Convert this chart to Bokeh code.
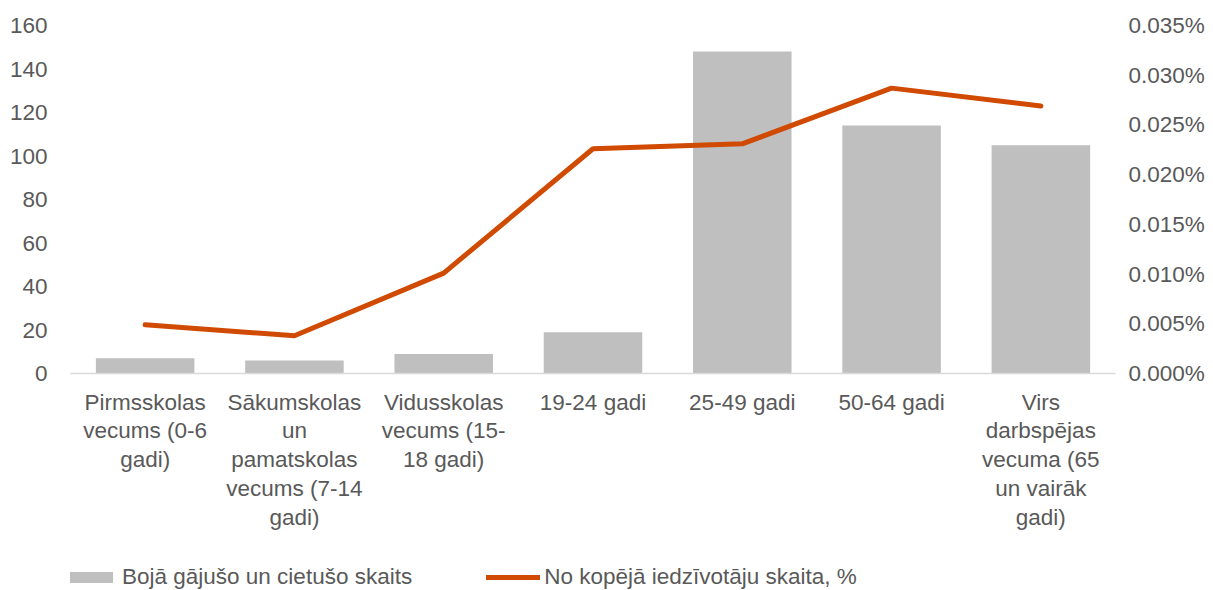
from bokeh.plotting import figure
from bokeh.layouts import column
from bokeh.models import (FactorRange, Range1d, LinearAxis, FixedTicker,
                          PrintfTickFormatter, Legend, LegendItem, ColumnDataSource)
from bokeh.embed import file_html
from bokeh.resources import INLINE

categories = [
    "Pirmsskolas\nvecums (0-6\ngadi)",
    "Sākumskolas\nun\npamatskolas\nvecums (7-14\ngadi)",
    "Vidusskolas\nvecums (15-\n18 gadi)",
    "19-24 gadi",
    "25-49 gadi",
    "50-64 gadi",
    "Virs\ndarbspējas\nvecuma (65\nun vairāk\ngadi)",
]
counts = [7, 6, 9, 19, 148, 114, 105]
share_pct = [0.0049, 0.0038, 0.0101, 0.0226, 0.0231, 0.0287, 0.0269]
left_ticks = [0, 20, 40, 60, 80, 100, 120, 140, 160]
right_ticks = [0.0, 0.005, 0.010, 0.015, 0.020, 0.025, 0.030, 0.035]

bar_label = "Bojā gājušo un cietušo skaits"
line_label = "No kopējā iedzīvotāju skaita, %"

FONT = "Liberation Sans"
TXT = "#595959"
FS = "22.5px"
BAR_COLOR = "#BFBFBF"
LINE_COLOR = "#D04A02"

src = ColumnDataSource(dict(cat=categories, count=counts, share=share_pct))

p = figure(x_range=FactorRange(*categories), y_range=Range1d(0, 160),
           width=1213, height=550, output_backend="svg", toolbar_location=None,
           min_border_left=70, min_border_right=98, min_border_top=25,
           min_border_bottom=177)
p.extra_y_ranges = {"pct": Range1d(0, 0.035)}

bars = p.vbar(x="cat", top="count", width=0.66, source=src,
              fill_color=BAR_COLOR, line_color=None)
ln = p.line(x="cat", y="share", source=src, y_range_name="pct",
            line_color=LINE_COLOR, line_width=5, line_cap="round", line_join="round")

p.outline_line_color = None
p.grid.grid_line_color = None
p.x_range.range_padding = 0.0

# x axis
xa = p.xaxis[0]
xa.axis_line_color = "#D9D9D9"
xa.axis_line_width = 1.5
xa.major_tick_line_color = None
xa.minor_tick_line_color = None
xa.major_label_text_font = FONT
xa.major_label_text_font_size = FS
xa.major_label_text_color = TXT
xa.major_label_standoff = 10
xa.major_label_text_line_height = 1.15
xa.major_label_orientation = "horizontal"

# left axis
ya = p.yaxis[0]
ya.ticker = FixedTicker(ticks=left_ticks)
ya.axis_line_color = None
ya.major_tick_line_color = None
ya.minor_tick_line_color = None
ya.major_label_text_font = FONT
ya.major_label_text_font_size = FS
ya.major_label_text_color = TXT
ya.major_label_standoff = 17

# right axis
ra = LinearAxis(y_range_name="pct", ticker=FixedTicker(ticks=right_ticks),
                formatter=PrintfTickFormatter(format="%.3f%%"))
ra.axis_line_color = None
ra.major_tick_line_color = None
ra.minor_tick_line_color = None
ra.major_label_text_font = FONT
ra.major_label_text_font_size = FS
ra.major_label_text_color = TXT
ra.major_label_standoff = 7
p.add_layout(ra, "right")

# legend strip below the chart (its renderers use the same data, kept out of view)
lf = figure(width=1213, height=40, output_backend="svg", toolbar_location=None,
            x_range=FactorRange(*categories), y_range=Range1d(1000, 1001),
            x_axis_type=None, y_axis_type=None,
            min_border_left=0, min_border_right=0, min_border_top=0,
            min_border_bottom=0)
lf.outline_line_color = None
lf.grid.grid_line_color = None
lbar = lf.vbar(x="cat", top="count", width=0.66, source=src,
               fill_color=BAR_COLOR, line_color=None)
lline = lf.line(x="cat", y="share", source=src,
                line_color=LINE_COLOR, line_width=5, line_cap="round")

legend = Legend(items=[LegendItem(label=bar_label, renderers=[lbar]),
                       LegendItem(label=line_label, renderers=[lline])],
                orientation="horizontal", location=(-6, 0),
                label_text_font=FONT, label_text_font_size=FS,
                label_text_color=TXT, glyph_width=54, glyph_height=14,
                spacing=74, padding=0, margin=0, label_standoff=4,
                border_line_color=None, background_fill_alpha=0)
lf.add_layout(legend, "center")

layout = column(p, lf, spacing=0)
open("out.html", "w").write(file_html(layout, INLINE))
